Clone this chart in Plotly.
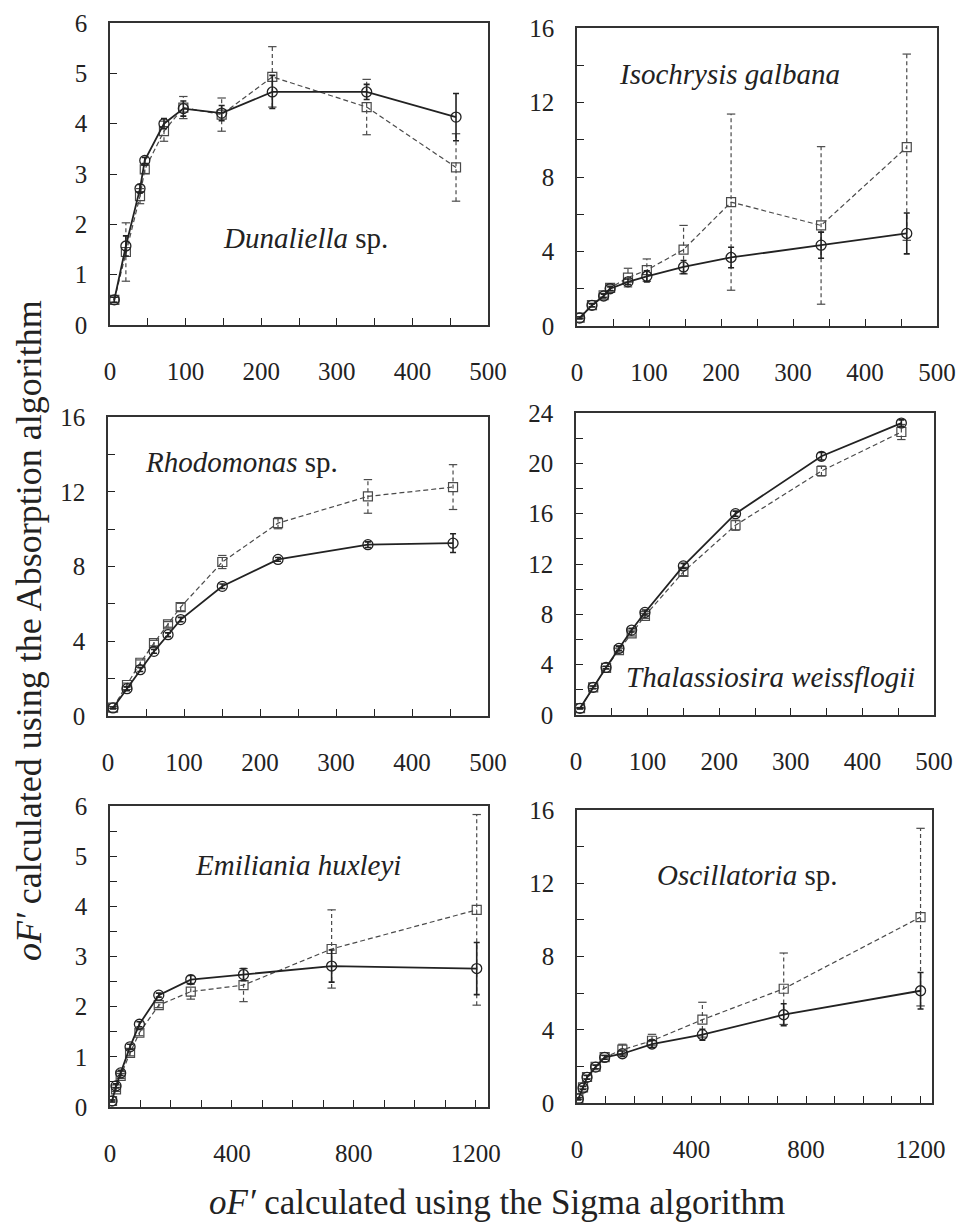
import plotly.graph_objects as go

# ---------------- data ----------------
names = ["<i>Dunaliella</i> sp.", "<i>Isochrysis galbana</i>", "<i>Rhodomonas</i> sp.",
         "<i>Thalassiosira weissflogii</i>", "<i>Emiliania huxleyi</i>", "<i>Oscillatoria</i> sp."]

x_dun = [5.7, 21, 39.7, 46, 71.4, 97, 147.7, 214.7, 339.5, 457.7]
circ_dun = [0.5, 1.57, 2.71, 3.27, 4.0, 4.3, 4.21, 4.63, 4.63, 4.13]
circ_dun_err = [0.05, 0.2, 0.08, 0.06, 0.1, 0.15, 0.15, 0.33, 0.15, 0.47]
sq_dun = [0.5, 1.45, 2.56, 3.09, 3.85, 4.32, 4.18, 4.93, 4.33, 3.13]
sq_dun_err = [0.05, 0.58, 0.15, 0.08, 0.2, 0.22, 0.33, 0.6, 0.55, 0.67]

x_iso = [3.7, 20.8, 37, 46, 70.8, 97, 148, 214, 339, 458]
circ_iso = [0.43, 1.11, 1.61, 2.0, 2.37, 2.67, 3.17, 3.68, 4.34, 4.97]
circ_iso_err = [0.05, 0.08, 0.1, 0.1, 0.15, 0.3, 0.35, 0.55, 0.7, 1.1]
sq_iso = [0.45, 1.12, 1.65, 2.05, 2.6, 3.0, 4.1, 6.65, 5.4, 9.6]
sq_iso_err = [0.05, 0.1, 0.1, 0.15, 0.5, 0.6, 1.3, 4.73, 4.23, 5.0]

x_rho = [6.6, 25, 42.5, 60.5, 79, 95.6, 150.4, 223.7, 342, 454]
circ_rho = [0.43, 1.46, 2.48, 3.46, 4.35, 5.16, 6.94, 8.38, 9.17, 9.25]
circ_rho_err = [0.05, 0.1, 0.1, 0.1, 0.1, 0.12, 0.12, 0.1, 0.15, 0.5]
sq_rho = [0.45, 1.66, 2.85, 3.9, 4.9, 5.83, 8.24, 10.32, 11.75, 12.25]
sq_rho_err = [0.05, 0.1, 0.15, 0.15, 0.15, 0.2, 0.35, 0.3, 0.9, 1.2]

x_tha = [5.6, 24, 42, 60, 77.7, 96.3, 150, 222.8, 342.8, 454.4]
circ_tha = [0.53, 2.2, 3.78, 5.29, 6.75, 8.15, 11.85, 16.0, 20.56, 23.2]
circ_tha_err = [0.05, 0.1, 0.1, 0.15, 0.15, 0.2, 0.2, 0.2, 0.3, 0.25]
sq_tha = [0.55, 2.2, 3.75, 5.16, 6.48, 7.88, 11.38, 15.08, 19.39, 22.49]
sq_tha_err = [0.05, 0.1, 0.1, 0.15, 0.2, 0.2, 0.3, 0.4, 0.4, 0.6]

x_emi = [6.6, 19.7, 35, 65.8, 96.4, 160, 265, 438, 727, 1203]
circ_emi = [0.12, 0.42, 0.68, 1.2, 1.65, 2.23, 2.54, 2.64, 2.81, 2.76]
circ_emi_err = [0.02, 0.04, 0.05, 0.05, 0.05, 0.04, 0.08, 0.12, 0.32, 0.52]
sq_emi = [0.12, 0.35, 0.62, 1.08, 1.48, 2.03, 2.3, 2.43, 3.15, 3.93]
sq_emi_err = [0.02, 0.04, 0.05, 0.06, 0.06, 0.05, 0.15, 0.33, 0.78, 1.9]

x_osc = [4.7, 21, 35, 65, 96.7, 158.5, 262, 438, 722, 1200]
circ_osc = [0.22, 0.82, 1.4, 1.96, 2.49, 2.69, 3.22, 3.73, 4.82, 6.13]
circ_osc_err = [0.05, 0.08, 0.1, 0.1, 0.1, 0.15, 0.2, 0.3, 0.6, 1.0]
sq_osc = [0.25, 0.85, 1.42, 1.98, 2.5, 2.91, 3.4, 4.55, 6.24, 10.15]
sq_osc_err = [0.05, 0.08, 0.1, 0.1, 0.1, 0.3, 0.35, 0.95, 1.95, 4.85]

panels = [
    (x_dun, circ_dun, circ_dun_err, sq_dun, sq_dun_err),
    (x_iso, circ_iso, circ_iso_err, sq_iso, sq_iso_err),
    (x_rho, circ_rho, circ_rho_err, sq_rho, sq_rho_err),
    (x_tha, circ_tha, circ_tha_err, sq_tha, sq_tha_err),
    (x_emi, circ_emi, circ_emi_err, sq_emi, sq_emi_err),
    (x_osc, circ_osc, circ_osc_err, sq_osc, sq_osc_err),
]

x_ranges = [[0, 500]] * 4 + [[0, 1240]] * 2
y_ranges = [[0, 6], [0, 16], [0, 16], [0, 24], [0, 6], [0, 16]]
y_dticks = [1, 4, 4, 4, 1, 4]
y_minor = [None, 2, 2, 2, 0.5, 2]
x_dticks = [100] * 4 + [400] * 2
x_minor = [50] * 4 + [100] * 2
label_pos = [(258, 1.73), (212, 13.55), (176, 13.6), (272, 3.04), (618, 4.82), (595, 12.45)]

# ---------------- layout (pixel boxes) ----------------
W, H = 958, 1224
boxes = [  # left, right, top, bottom in pixels
    (110, 488, 23, 325),
    (577, 937, 28, 326),
    (108, 488, 417, 716),
    (576, 934, 413, 715),
    (110, 488, 806, 1107),
    (577, 932, 810, 1103),
]

FONT = "Liberation Serif"
INK = "#222222"
GRAY = "#4a4a4a"

fig = go.Figure()
layout = dict(
    template="none",
    width=W, height=H,
    margin=dict(l=0, r=0, t=0, b=0, pad=0),
    paper_bgcolor="white", plot_bgcolor="white",
    showlegend=False,
    font=dict(family=FONT, size=25, color=INK),
)
annotations = []

for i, (xs, cy, ce, sy, se) in enumerate(panels):
    n = i + 1
    xa = "x" if n == 1 else f"x{n}"
    ya = "y" if n == 1 else f"y{n}"
    l, r, t, b = boxes[i]

    # dashed error bars (square series)
    ex, ey, cx_, cyy = [], [], [], []
    for xv, yv, ev in zip(xs, sy, se):
        ex += [xv, xv, None]
        ey += [yv - ev, yv + ev, None]
        cx_ += [xv, xv]
        cyy += [yv - ev, yv + ev]
    fig.add_trace(go.Scatter(x=ex, y=ey, mode="lines", xaxis=xa, yaxis=ya,
                             line=dict(color=GRAY, width=1.2, dash="4px,3px"),
                             hoverinfo="skip"))
    fig.add_trace(go.Scatter(x=cx_, y=cyy, mode="markers", xaxis=xa, yaxis=ya,
                             marker=dict(symbol="line-ew", size=6,
                                         line=dict(color=GRAY, width=1.2)),
                             hoverinfo="skip"))
    # square series (dashed)
    fig.add_trace(go.Scatter(x=xs, y=sy, mode="lines+markers", xaxis=xa, yaxis=ya,
                             line=dict(color=GRAY, width=1.2, dash="5px,3px"),
                             marker=dict(symbol="square-open", size=9,
                                         color=GRAY, line=dict(color=GRAY, width=1.2))))
    # circle series (solid)
    fig.add_trace(go.Scatter(x=xs, y=cy, mode="lines+markers", xaxis=xa, yaxis=ya,
                             line=dict(color=INK, width=1.8),
                             marker=dict(symbol="circle-open", size=10,
                                         color=INK, line=dict(color=INK, width=1.3)),
                             error_y=dict(type="data", array=ce, visible=True,
                                          color=INK, thickness=1.6, width=3)))

    xkey = "xaxis" if n == 1 else f"xaxis{n}"
    ykey = "yaxis" if n == 1 else f"yaxis{n}"
    layout[xkey] = dict(
        domain=[l / W, r / W], anchor=ya, range=x_ranges[i], automargin=False,
        dtick=x_dticks[i], tick0=0, ticks="inside", ticklen=7, tickwidth=1.3,
        tickcolor=INK, showline=True, linecolor="#333333", linewidth=1.5,
        mirror=True, showgrid=False, zeroline=False,
        minor=dict(dtick=x_minor[i], tick0=0, ticks="inside", ticklen=7,
                   tickwidth=1.3, tickcolor=INK, showgrid=False),
        ticklabelstandoff=23, tickfont=dict(family=FONT, size=25, color=INK),
    )
    ydict = dict(
        domain=[1 - b / H, 1 - t / H], anchor=xa, range=y_ranges[i], automargin=False,
        dtick=y_dticks[i], tick0=0, ticks="inside", ticklen=7, tickwidth=1.3,
        tickcolor=INK, showline=True, linecolor="#333333", linewidth=1.5,
        mirror=True, showgrid=False, zeroline=False,
        ticklabelstandoff=16, tickfont=dict(family=FONT, size=25, color=INK),
    )
    if y_minor[i]:
        ydict["minor"] = dict(dtick=y_minor[i], tick0=0, ticks="inside", ticklen=7,
                              tickwidth=1.3, tickcolor=INK, showgrid=False)
    layout[ykey] = ydict

    lx, ly = label_pos[i]
    annotations.append(dict(x=lx, y=ly, xref=xa, yref=ya, text=names[i],
                            showarrow=False, xanchor="center", yanchor="middle",
                            font=dict(family=FONT, size=29, color=INK)))

annotations.append(dict(x=497 / W, y=1 - 1202 / H, xref="paper", yref="paper",
                        text="<i>oF′</i> calculated using the Sigma algorithm",
                        showarrow=False, xanchor="center", yanchor="middle",
                        font=dict(family=FONT, size=35, color=INK)))
annotations.append(dict(x=29 / W, y=1 - 631 / H, xref="paper", yref="paper",
                        text="<i>oF′</i> calculated using the Absorption algorithm",
                        showarrow=False, xanchor="center", yanchor="middle", textangle=-90,
                        font=dict(family=FONT, size=36, color=INK)))
layout["annotations"] = annotations

fig.update_layout(**layout)
fig.write_html("out.html",
               config={"displayModeBar": False},
               post_script="document.body.style.margin='0px';document.body.style.padding='0px';")
